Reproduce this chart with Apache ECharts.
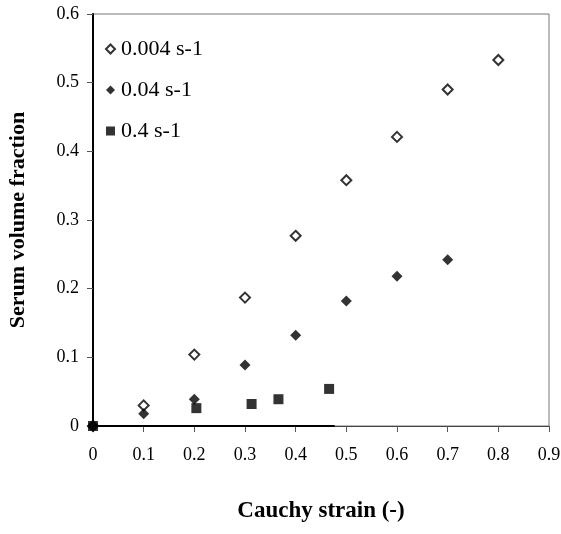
<!DOCTYPE html>
<html>
<head>
<meta charset="utf-8">
<script src="https://cdn.jsdelivr.net/npm/echarts@6/dist/echarts.min.js"></script>
<style>
html,body{margin:0;padding:0;background:#fff;}
#chart{width:561px;height:534px;}
</style>
</head>
<body>
<div id="chart"></div>
<script>
var seriesNames = ['0.004 s-1', '0.04 s-1', '0.4 s-1'];
var slowX = [0, 0.1, 0.2, 0.3, 0.4, 0.5, 0.6, 0.7, 0.8];
var slowY = [0, 0.030, 0.104, 0.187, 0.277, 0.358, 0.421, 0.490, 0.533];
var midX = [0, 0.1, 0.2, 0.3, 0.4, 0.5, 0.6, 0.7];
var midY = [0, 0.018, 0.039, 0.089, 0.132, 0.182, 0.218, 0.242];
var fastX = [0, 0.204, 0.313, 0.366, 0.466];
var fastY = [0, 0.026, 0.032, 0.039, 0.054];
var xTicks = [0, 0.1, 0.2, 0.3, 0.4, 0.5, 0.6, 0.7, 0.8, 0.9];
var yTicks = [0, 0.1, 0.2, 0.3, 0.4, 0.5, 0.6];
var baselineSegment = [0, 0.477];

function pairs(xs, ys){ return xs.map(function(x,i){ return [x, ys[i]]; }); }
function fmt(v){ return v === 0 ? '0' : String(Math.round(v*10)/10); }

var font = '"Liberation Serif", "Times New Roman", serif';
var chart = echarts.init(document.getElementById('chart'));
chart.setOption({
  animation: false,
  backgroundColor: '#fff',
  textStyle: { fontFamily: font },
  grid: { left: 93, right: 12, top: 14, bottom: 108, show: true, borderColor: '#777', borderWidth: 1,
          containLabel: false, outerBoundsMode: 'none' },
  legend: {
    orient: 'vertical', left: 100, top: 33, itemGap: 19, itemWidth: 9, itemHeight: 9,
    textStyle: { fontFamily: font, fontSize: 22, color: '#000', padding: [0, 0, 0, 1] },
    data: seriesNames
  },
  xAxis: {
    type: 'value', min: xTicks[0], max: xTicks[xTicks.length-1], interval: 0.1,
    name: 'Cauchy strain (-)', nameLocation: 'middle', nameGap: 74,
    nameTextStyle: { fontFamily: font, fontSize: 23, fontWeight: 'bold', color: '#000' },
    axisLine: { show: true, onZero: false, lineStyle: { color: '#444', width: 1 } },
    axisTick: { show: true, inside: false, length: 6, lineStyle: { color: '#555' } },
    axisLabel: { fontFamily: font, fontSize: 18, color: '#000', margin: 20, formatter: fmt },
    splitLine: { show: false }
  },
  yAxis: {
    type: 'value', min: yTicks[0], max: yTicks[yTicks.length-1], interval: 0.1,
    name: 'Serum volume fraction', nameLocation: 'middle', nameGap: 64,
    nameTextStyle: { fontFamily: font, fontSize: 22, fontWeight: 'bold', color: '#000' },
    axisLine: { show: true, lineStyle: { color: '#000', width: 2 } },
    axisTick: { show: true, inside: false, length: 6, lineStyle: { color: '#555' } },
    axisLabel: { fontFamily: font, fontSize: 18, color: '#000', margin: 14, formatter: fmt },
    splitLine: { show: false }
  },
  series: [
    {
      name: seriesNames[0], type: 'scatter', symbol: 'diamond', symbolSize: 10,
      itemStyle: { color: '#fff', borderColor: '#000', borderWidth: 2 },
      data: pairs(slowX, slowY), z: 3
    },
    {
      name: seriesNames[1], type: 'scatter', symbol: 'diamond', symbolSize: 11,
      itemStyle: { color: '#000' },
      data: pairs(midX, midY), z: 4
    },
    {
      name: seriesNames[2], type: 'scatter', symbol: 'rect', symbolSize: 10,
      itemStyle: { color: '#000' },
      data: pairs(fastX, fastY), z: 5,
      markLine: {
        silent: true, symbol: 'none', label: { show: false },
        lineStyle: { color: '#000', width: 2, type: 'solid' },
        data: [[{ coord: [baselineSegment[0], 0] }, { coord: [baselineSegment[1], 0] }]]
      }
    }
  ]
});
</script>
</body>
</html>
